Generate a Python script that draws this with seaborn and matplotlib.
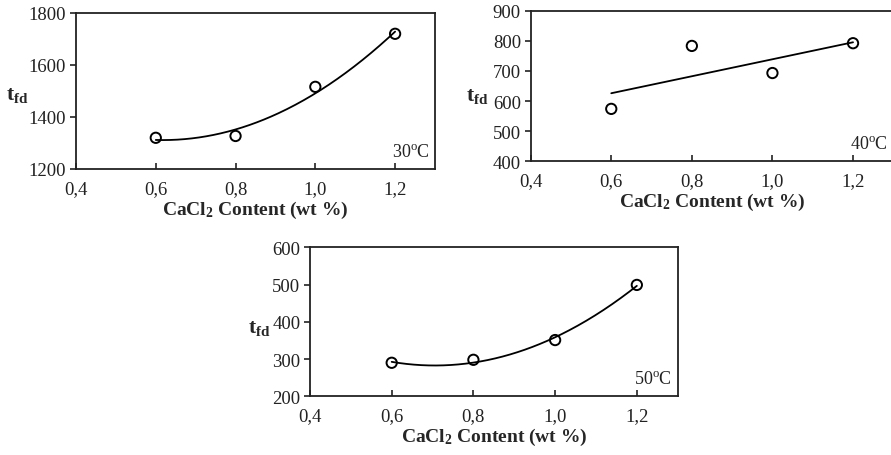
import numpy as np
import pandas as pd
import matplotlib
matplotlib.use("Agg")
import matplotlib.pyplot as plt
import seaborn as sns

# CaCl2 content (wt %) and t_fd measured at three temperatures
cacl2 = [0.6, 0.8, 1.0, 1.2]
tfd_30 = [1320, 1327, 1516, 1720]
tfd_40 = [574, 783, 693, 792]
tfd_50 = [290, 298, 351, 499]
temps = ["30", "40", "50"]
fit_degree = [2, 1, 2]
ylims = [(1200, 1800), (400, 900), (200, 600)]
yticks = [[1200, 1400, 1600, 1800],
          [400, 500, 600, 700, 800, 900],
          [200, 300, 400, 500, 600]]
xticks = [0.4, 0.6, 0.8, 1.0, 1.2]
xtick_labels = ["0,4", "0,6", "0,8", "1,0", "1,2"]

sns.set_theme(style="ticks")
plt.rcParams["font.family"] = ["Liberation Serif", "DejaVu Serif"]
plt.rcParams["mathtext.fontset"] = "custom"
plt.rcParams["mathtext.rm"] = "Liberation Serif"
plt.rcParams["mathtext.bf"] = "Liberation Serif:bold"
plt.rcParams["mathtext.it"] = "Liberation Serif:italic"

fig = plt.figure(figsize=(8.91, 4.56), dpi=100)
# axes rectangles in figure fractions: left, bottom, width, height
rects = [
    [0.0853, 0.6272, 0.4029, 0.3421],
    [0.5956, 0.6441, 0.4070, 0.3303],
    [0.3479, 0.1287, 0.4127, 0.3268],
]
# y-label anchor in axes coordinates for each panel
ylabel_xy = [(-0.163, 0.48), (-0.148, 0.44), (-0.139, 0.465)]
series = [tfd_30, tfd_40, tfd_50]

for rect, lab_xy, y, temp, deg, ylim, yt in zip(rects, ylabel_xy, series, temps,
                                                fit_degree, ylims, yticks):
    ax = fig.add_axes(rect)
    df = pd.DataFrame({"x": cacl2, "y": y})
    coef = np.polyfit(df["x"], df["y"], deg)
    xs = np.linspace(min(cacl2), max(cacl2), 200)
    fit = pd.DataFrame({"x": xs, "y": np.polyval(coef, xs)})
    sns.lineplot(data=fit, x="x", y="y", ax=ax, color="black", linewidth=1.3)
    sns.scatterplot(data=df, x="x", y="y", ax=ax, marker="o", s=55,
                    facecolor="none", edgecolor="black", linewidth=1.4, zorder=3)
    ax.set_xlim(0.4, 1.3)
    ax.set_ylim(*ylim)
    ax.set_xticks(xticks)
    ax.set_xticklabels(xtick_labels)
    ax.set_yticks(yt)
    ax.tick_params(axis="x", direction="in", length=4, width=1.2, labelsize=13.5,
                   pad=8, colors="#222222")
    ax.tick_params(axis="y", direction="out", length=4, width=1.2, labelsize=13.5,
                   pad=3, colors="#222222")
    for sp in ax.spines.values():
        sp.set_visible(True)
        sp.set_linewidth(1.3)
        sp.set_color("#222222")
    ax.set_xlabel(r"$\mathbf{CaCl_2\ Content\ (wt\ \%)}$", fontsize=14, labelpad=1)
    ax.set_ylabel(r"$\mathbf{t_{fd}}$", fontsize=15.5, rotation=0,
                  ha="center", va="center")
    ax.yaxis.set_label_coords(*lab_xy)
    ax.text(0.985, 0.06, temp + r"$^{\mathrm{o}}$C", transform=ax.transAxes,
            ha="right", va="bottom", fontsize=13, color="#222222")

fig.savefig("out.png", dpi=100)
